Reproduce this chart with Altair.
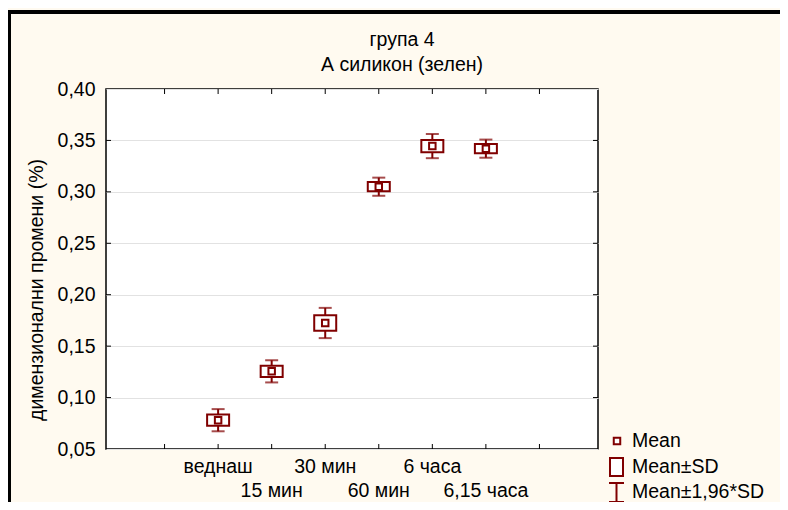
import altair as alt
import pandas as pd

# ---- data ----
categories = ["веднаш", "15 мин", "30 мин", "60 мин", "6 часа", "6,15 часа"]
positions = [2, 3, 4, 5, 6, 7]
means = [0.078, 0.1255, 0.1725, 0.305, 0.3445, 0.342]
sds = [0.0055, 0.0055, 0.0075, 0.0045, 0.006, 0.0045]
y_ticks = [0.10, 0.15, 0.20, 0.25, 0.30, 0.35]
y_labels = [0.05, 0.10, 0.15, 0.20, 0.25, 0.30, 0.35, 0.40]
x_ticks = [1, 2, 3, 4, 5, 6, 7, 8]
title_lines = ["група 4", "А силикон (зелен)"]
legend_labels = ["Mean", "Mean±SD", "Mean±1,96*SD"]
y_title = "димензионални промени (%)"

RED = "#800000"
FONT = "Liberation Sans"
FS = 19.5
W, H = 492, 360

df = pd.DataFrame({"cat": categories, "pos": positions, "mean": means, "sd": sds})
df["lo1"] = df["mean"] - df["sd"]
df["hi1"] = df["mean"] + df["sd"]
df["lo2"] = df["mean"] - 1.96 * df["sd"]
df["hi2"] = df["mean"] + 1.96 * df["sd"]
df["row"] = [i % 2 for i in range(len(df))]

xs = alt.Scale(domain=[0, 9], nice=False, zero=False)
ys = alt.Scale(domain=[0.05, 0.40], nice=False, zero=False)

Y_AXIS = alt.Axis(values=y_labels,
                  labelExpr="replace(format(datum.value, '.2f'), '.', ',')",
                  ticks=False, domain=False, grid=True, gridColor="#E2E2E2",
                  labelFont=FONT, labelFontSize=FS, labelColor="black",
                  labelPadding=11, title=None)


def XF(f):
    return alt.X(f, scale=xs, axis=None)


def YF(f):
    return alt.Y(f, scale=ys, axis=Y_AXIS)


base = alt.Chart(df)

whisk2 = base.mark_rule(color=RED, strokeWidth=2).encode(
    x=XF("pos:Q"), y=YF("lo2:Q"), y2="hi2:Q")
cap_hi = base.mark_tick(color=RED, orient="horizontal", size=13, thickness=2).encode(
    x=XF("pos:Q"), y=YF("hi2:Q"))
cap_lo = base.mark_tick(color=RED, orient="horizontal", size=13, thickness=2).encode(
    x=XF("pos:Q"), y=YF("lo2:Q"))
box = base.mark_bar(width=22, fill="white", stroke=RED, strokeWidth=2).encode(
    x=XF("pos:Q"), y=YF("lo1:Q"), y2="hi1:Q")
mean_pt = base.mark_point(shape="square", size=42, filled=True, fill="white",
                          stroke=RED, strokeWidth=2, opacity=1).encode(
    x=XF("pos:Q"), y=YF("mean:Q"))

xlab = base.transform_filter("datum.row == 0").mark_text(
    font=FONT, fontSize=FS, color="black", baseline="middle").encode(
    x=XF("pos:Q"), y=alt.value(378), text="cat:N")
xlab2 = base.transform_filter("datum.row == 1").mark_text(
    font=FONT, fontSize=FS, color="black", baseline="middle").encode(
    x=XF("pos:Q"), y=alt.value(402), text="cat:N")

# inward tick marks
yt = alt.Chart(pd.DataFrame({"v": y_ticks}))
ytick_l = yt.mark_rule(color="black", strokeWidth=1).encode(
    y=YF("v:Q"), x=alt.value(0), x2=alt.value(5))
ytick_r = yt.mark_rule(color="black", strokeWidth=1).encode(
    y=YF("v:Q"), x=alt.value(W - 5), x2=alt.value(W))
xt = alt.Chart(pd.DataFrame({"v": x_ticks}))
xtick_b = xt.mark_rule(color="black", strokeWidth=1).encode(
    x=XF("v:Q"), y=alt.value(H - 5), y2=alt.value(H))
xtick_t = xt.mark_rule(color="black", strokeWidth=1).encode(
    x=XF("v:Q"), y=alt.value(0), y2=alt.value(5))

one = alt.Chart(pd.DataFrame({"k": [0]}))


def txt(s, x, y, align="left", angle=0):
    return one.mark_text(font=FONT, fontSize=FS, color="black", baseline="middle",
                         align=align, angle=angle, text=s).encode(
        x=alt.value(x), y=alt.value(y))


title1 = txt(title_lines[0], 296, -49, "center")
title2 = txt(title_lines[1], 296, -24, "center")
ytl = txt(y_title, -69, 201, "center", 270)

leg_t1 = txt(legend_labels[0], 526, 352)
leg_t2 = txt(legend_labels[1], 526, 378)
leg_t3 = txt(legend_labels[2], 526, 403)

leg_mean = one.mark_point(shape="square", size=42, filled=True, fill="white",
                          stroke=RED, strokeWidth=2, opacity=1).encode(
    x=alt.value(511), y=alt.value(352))
leg_box = one.mark_rect(fill="white", stroke=RED, strokeWidth=2).encode(
    x=alt.value(504), x2=alt.value(517), y=alt.value(369), y2=alt.value(387))
leg_wh = one.mark_rule(color=RED, strokeWidth=2).encode(
    x=alt.value(510.5), y=alt.value(394), y2=alt.value(413))
leg_c1 = one.mark_rule(color=RED, strokeWidth=2).encode(
    x=alt.value(503), x2=alt.value(518), y=alt.value(394))
leg_c2 = one.mark_rule(color=RED, strokeWidth=2).encode(
    x=alt.value(503), x2=alt.value(518), y=alt.value(413))

# outer black frame (left and top)
frame_l = one.mark_rule(color="black", strokeWidth=4).encode(
    x=alt.value(-97), y=alt.value(-79), y2=alt.value(430))
frame_t = one.mark_rule(color="black", strokeWidth=4).encode(
    x=alt.value(-99), x2=alt.value(674), y=alt.value(-77))

chart = alt.layer(
    whisk2, cap_hi, cap_lo, box, mean_pt,
    ytick_l, ytick_r, xtick_b, xtick_t,
    xlab, xlab2, title1, title2, ytl,
    leg_t1, leg_t2, leg_t3, leg_mean, leg_box, leg_wh, leg_c1, leg_c2,
    frame_l, frame_t,
).properties(
    width=W, height=H,
    autosize=alt.AutoSizeParams(type="none"),
    padding={"left": 98, "top": 81, "right": 182, "bottom": 53},
    background="#FFFAF0",
).configure_view(
    stroke="black", strokeWidth=1.5, fill="white"
)

chart.save("out.html", embed_options={"renderer": "svg", "actions": False})
